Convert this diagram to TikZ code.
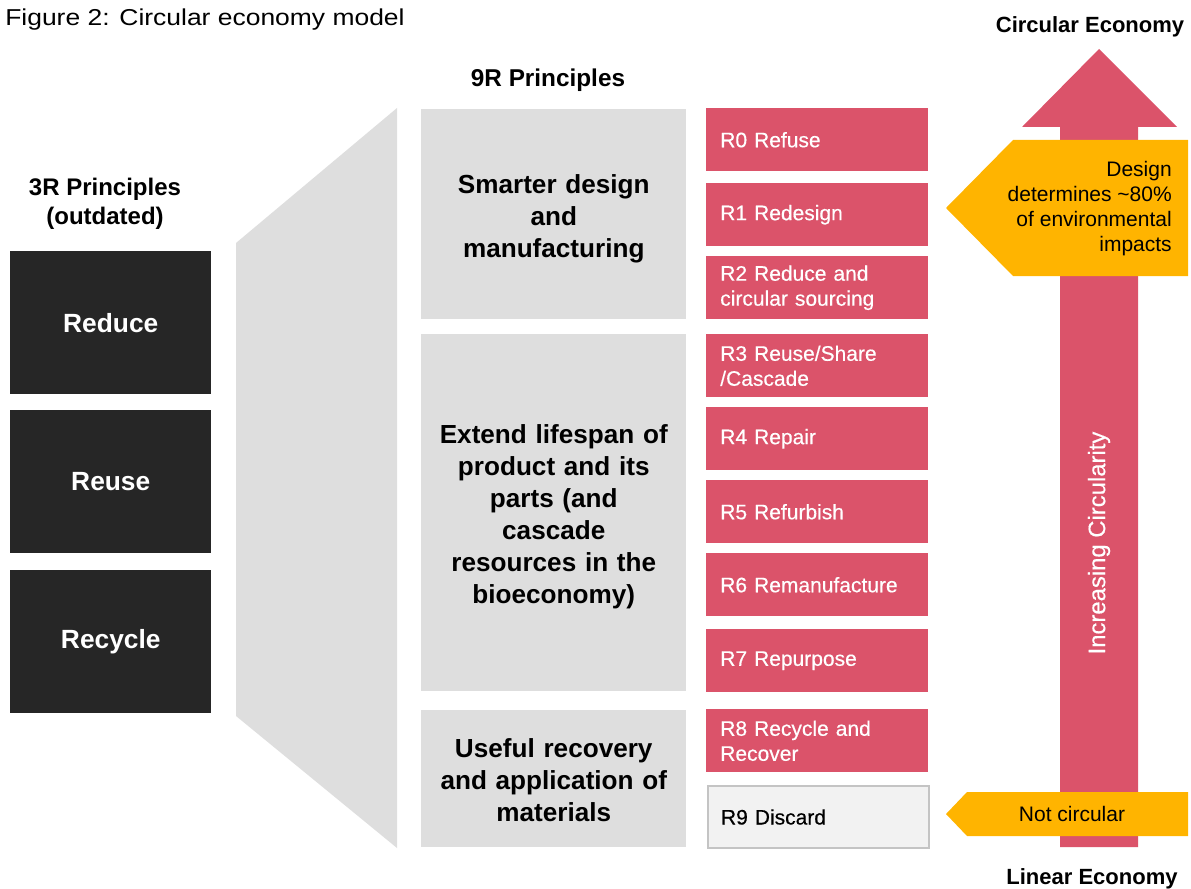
\documentclass[tikz,border=0pt]{standalone}
\usepackage{fontspec}
\setmainfont{Liberation Sans}
\newfontfamily\titlefont[FakeStretch=1.15]{Liberation Sans}
\newfontfamily\medfont[FakeBold=0.4]{Liberation Sans}
\usepackage{xcolor}
\usepackage{tikz}
\usetikzlibrary{positioning}
\definecolor{rred}{HTML}{DB536A}
\definecolor{rgray}{HTML}{DEDEDE}
\definecolor{rdark}{HTML}{262626}
\definecolor{ryellow}{HTML}{FFB400}
\definecolor{rlight}{HTML}{F2F2F2}
\definecolor{rline}{HTML}{C4C4C4}
\newcommand{\topstrut}[1][20.5pt]{\rule{0pt}{#1}}
\begin{document}
\begin{tikzpicture}[x=0.75pt, y=-0.75pt,
        darkbox/.style={fill=rdark, text=white, anchor=north west, inner sep=0pt,
            minimum width=150.75pt, minimum height=107.25pt,
            font=\bfseries\fontsize{19.75}{22}\selectfont},
        greybox/.style={fill=rgray, anchor=north west, inner sep=0pt, text width=198.75pt,
            align=center, font=\bfseries\fontsize{19.6}{24}\selectfont},
        rbox/.style={fill=rred, text=white, anchor=north west, inner xsep=10.5pt, inner ysep=0pt,
            text width=145.5pt, minimum height=47.25pt, align=left,
            font=\medfont\fontsize{15.75}{18.75}\selectfont},
        heading/.style={font=\bfseries\fontsize{18}{22}\selectfont, align=center},
        notetext/.style={font=\fontsize{15.75}{18.75}\selectfont}]
        \useasboundingbox (0,0) rectangle (1191,888);

        % title
        \node[anchor=base west, inner sep=0pt, font=\titlefont\fontsize{17.25}{20}\selectfont] (title) at (5,26) {Figure 2: Circular economy model};

        % 3R column
        \node[heading] (p3r) at (105,204) {3R Principles\\(outdated)};
        \node[darkbox] (reduce) at (10,251) {Reduce};
        \node[darkbox] (reuse) at (10,410) {Reuse};
        \node[darkbox] (recycle) at (10,570) {Recycle};

        % funnel
        \fill[rgray] (236,243) -- (397,108) -- (397,848) -- (236,716) -- cycle;

        % 9R groups
        \node[heading, font=\bfseries\fontsize{18.25}{22}\selectfont] (p9r) at (548,80) {9R Principles};
        \node[greybox, minimum height=157.5pt] (design) at (421,109) {\topstrut Smarter design\\and\\manufacturing};
        \node[greybox, minimum height=267.75pt] (extend) at (421,334) {\topstrut Extend lifespan of\\product and its\\parts (and\\cascade\\resources in the\\bioeconomy)};
        \node[greybox, minimum height=102.75pt] (recovery) at (421,710) {\topstrut[16pt]Useful recovery\\and application of\\materials};

        % 9R boxes
        \node[rbox] (r0) at (706,108) {R0 Refuse};
        \node[rbox] (r1) at (706,183) {R1 Redesign};
        \node[rbox] (r2) at (706,256) {R2 Reduce and\\circular sourcing};
        \node[rbox] (r3) at (706,334) {R3 Reuse/Share\\/Cascade};
        \node[rbox] (r4) at (706,407) {R4 Repair};
        \node[rbox] (r5) at (706,480) {R5 Refurbish};
        \node[rbox] (r6) at (706,553) {R6 Remanufacture};
        \node[rbox] (r7) at (706,629) {R7 Repurpose};
        \node[rbox] (r8) at (706,709) {R8 Recycle and\\Recover};
        \node[rbox, fill=rlight, draw=rline, line width=1.5pt, text=black, inner xsep=9.75pt, text width=146.25pt, minimum height=46.5pt] (r9) at (707,785) {R9 Discard};

        % circularity arrow
        \fill[rred] (1060,847) -- (1060,127) -- (1022,127) -- (1099,49) -- (1177,127) -- (1138,127) -- (1138,847) -- cycle;
        \node[rotate=90, text=white, font=\medfont\fontsize{17.9}{20}\selectfont] (incr) at (1099,543) {Increasing Circularity};
        \node[heading, font=\bfseries\fontsize{16.5}{20}\selectfont, anchor=base] (circular) at (1090,33) {Circular Economy};
        \node[heading, font=\bfseries\fontsize{16.5}{20}\selectfont, anchor=base] (linear) at (1092,884) {Linear Economy};

        % yellow notes
        \fill[ryellow] (946,208) -- (1013,140) -- (1188,140) -- (1188,276) -- (1013,276) -- cycle;
        \node[notetext, align=right, anchor=east, inner sep=0pt] (impact) at (1172,209) {Design\\determines \textasciitilde80\%\\of environmental\\impacts};
        \fill[ryellow] (946,814) -- (967,792) -- (1188,792) -- (1188,836) -- (967,836) -- cycle;
        \node[notetext, inner sep=0pt] (notcirc) at (1072,814) {Not circular};

    \end{tikzpicture}
\end{document}
